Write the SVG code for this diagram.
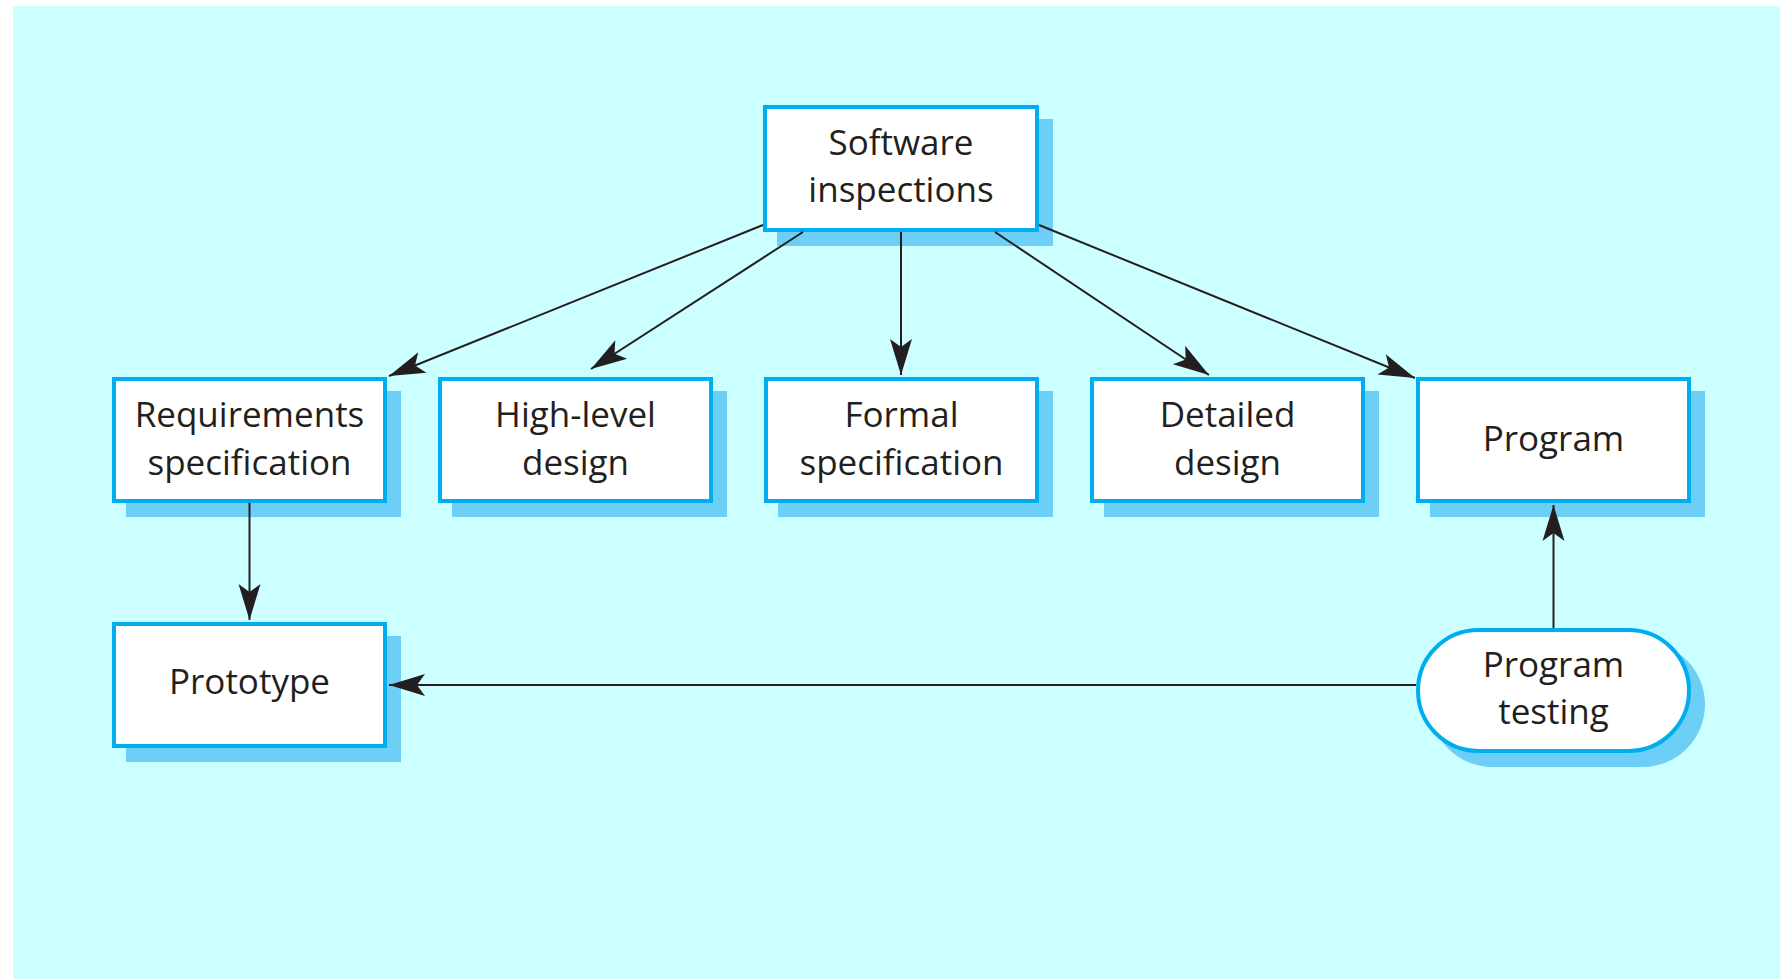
<svg xmlns="http://www.w3.org/2000/svg" width="1780" height="979" viewBox="0 0 1780 979">
<style>
.bg{fill:#ccffff}
.sh{fill:#6dcff6}
.bx{fill:#ffffff;stroke:#00aeef;stroke-width:4}
.t{font-family:"Open Sans","Noto Sans",sans-serif;font-size:35px;fill:#231f20;text-anchor:middle}
.c{stroke:#231f20;stroke-width:2;fill:none}
</style>
<defs>
<marker id="ah" markerUnits="userSpaceOnUse" viewBox="-40 -15 42 30" markerWidth="42" markerHeight="30" refX="0" refY="0" orient="auto">
<path d="M0,0 L-36,-11 L-28,0 L-36,11 Z" fill="#231f20"/>
</marker>
</defs>
<rect class="bg" x="13" y="6" width="1767" height="973"/>

<g id="software-inspections">
<rect class="sh" x="777" y="119" width="276" height="127"/>
<rect class="bx" x="765" y="107" width="272" height="123"/>
<text class="t" x="901" y="155">Software</text>
<text class="t" x="901" y="202">inspections</text>
</g>

<g id="requirements-specification">
<rect class="sh" x="126" y="391" width="275" height="126"/>
<rect class="bx" x="114" y="379" width="271" height="122"/>
<text class="t" x="249.5" y="427">Requirements</text>
<text class="t" x="249.5" y="475">specification</text>
</g>

<g id="high-level-design">
<rect class="sh" x="452" y="391" width="275" height="126"/>
<rect class="bx" x="440" y="379" width="271" height="122"/>
<text class="t" x="575.5" y="427">High-level</text>
<text class="t" x="575.5" y="475">design</text>
</g>

<g id="formal-specification">
<rect class="sh" x="778" y="391" width="275" height="126"/>
<rect class="bx" x="766" y="379" width="271" height="122"/>
<text class="t" x="901.5" y="427">Formal</text>
<text class="t" x="901.5" y="475">specification</text>
</g>

<g id="detailed-design">
<rect class="sh" x="1104" y="391" width="275" height="126"/>
<rect class="bx" x="1092" y="379" width="271" height="122"/>
<text class="t" x="1227.5" y="427">Detailed</text>
<text class="t" x="1227.5" y="475">design</text>
</g>

<g id="program">
<rect class="sh" x="1430" y="391" width="275" height="126"/>
<rect class="bx" x="1418" y="379" width="271" height="122"/>
<text class="t" x="1553.5" y="451">Program</text>
</g>

<g id="prototype">
<rect class="sh" x="126" y="636" width="275" height="126"/>
<rect class="bx" x="114" y="624" width="271" height="122"/>
<text class="t" x="249.5" y="694">Prototype</text>
</g>

<g id="program-testing">
<rect class="sh" x="1430" y="642" width="275" height="125" rx="62.5"/>
<rect class="bx" x="1418" y="630" width="271" height="121" rx="60.5"/>
<text class="t" x="1553.5" y="677">Program</text>
<text class="t" x="1553.5" y="724">testing</text>
</g>

<g id="connectors">
<line class="c" x1="763" y1="225" x2="389" y2="376" marker-end="url(#ah)"/>
<line class="c" x1="803" y1="232" x2="591" y2="369" marker-end="url(#ah)"/>
<line class="c" x1="901" y1="232" x2="901" y2="375" marker-end="url(#ah)"/>
<line class="c" x1="995" y1="232" x2="1209" y2="375" marker-end="url(#ah)"/>
<line class="c" x1="1039" y1="225" x2="1415" y2="378" marker-end="url(#ah)"/>
<line class="c" x1="249.5" y1="503" x2="249.5" y2="620" marker-end="url(#ah)"/>
<line class="c" x1="1553.5" y1="628" x2="1553.5" y2="505" marker-end="url(#ah)"/>
<line class="c" x1="1416" y1="685" x2="389" y2="685" marker-end="url(#ah)"/>
</g>
</svg>
